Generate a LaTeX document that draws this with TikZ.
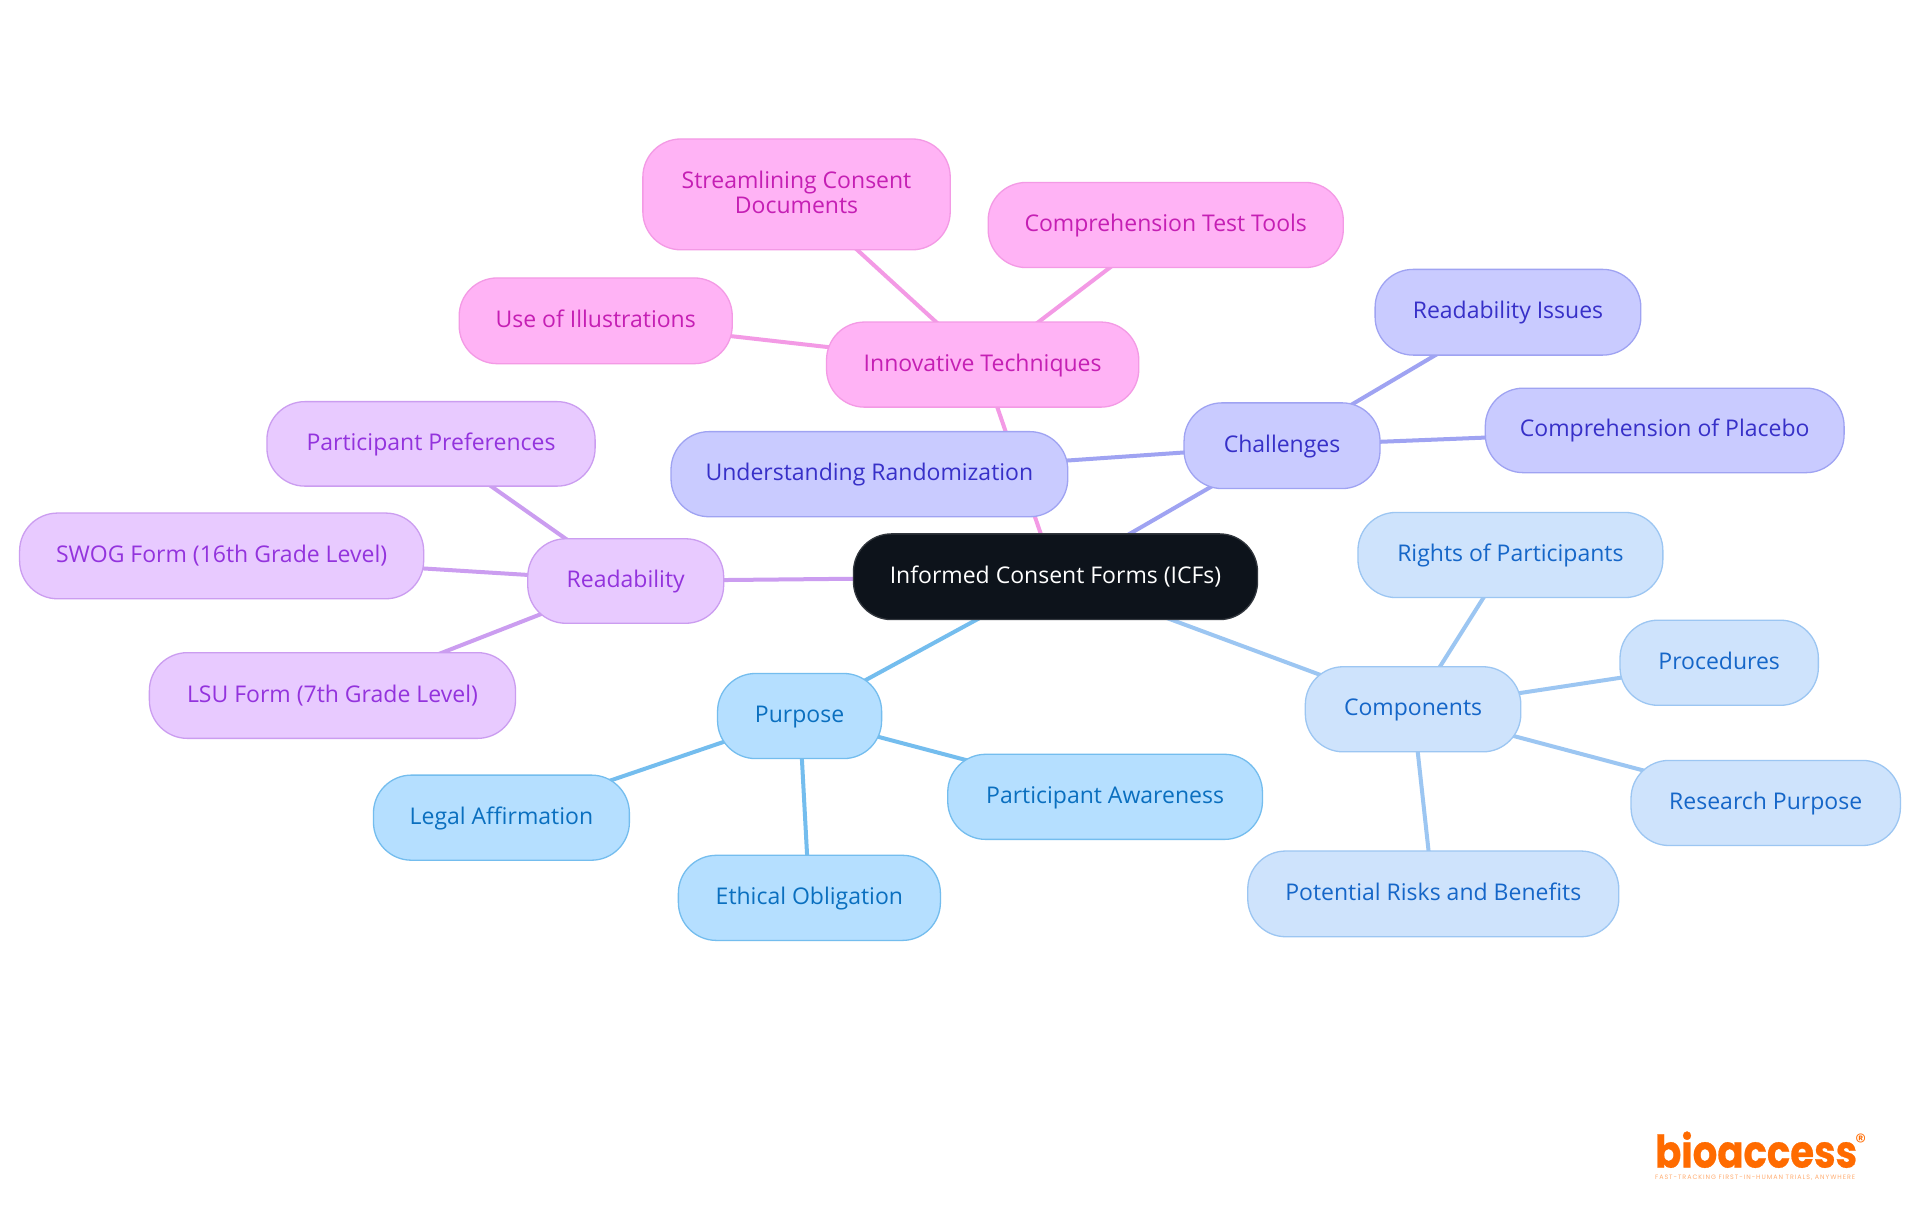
\documentclass[tikz,border=0pt]{standalone}
\usepackage{fontspec}
\setmainfont{Open Sans}
\newfontfamily\logofont[BoldFeatures={FakeBold=0.6}]{Poppins}
\usetikzlibrary{backgrounds}
\definecolor{rootfill}{HTML}{0D131B}
\definecolor{pinkfill}{HTML}{FFB3F5}\definecolor{pinkline}{HTML}{F39AE5}\definecolor{pinktext}{HTML}{C51FB4}
\definecolor{indfill}{HTML}{C9CBFF}\definecolor{indline}{HTML}{9FA3F2}\definecolor{indtext}{HTML}{3730C8}
\definecolor{purfill}{HTML}{E8CAFF}\definecolor{purline}{HTML}{CB9DF0}\definecolor{purtext}{HTML}{9333DD}
\definecolor{blufill}{HTML}{B5DFFF}\definecolor{bluline}{HTML}{74BDEE}\definecolor{blutext}{HTML}{0A6FBF}
\definecolor{skyfill}{HTML}{CEE3FC}\definecolor{skyline}{HTML}{9CC6F2}\definecolor{skytext}{HTML}{1566C8}
\definecolor{logoorange}{HTML}{FF6B00}
\tikzset{
  x=1.2245pt,y=-1.2245pt,
  topic/.style={rounded corners=38pt,line width=1.3pt,inner sep=0pt,align=center,font=\fontsize{23}{25}\selectfont},
  rootnode/.style={topic,fill=rootfill,draw=rootfill!85!white,text=white},
  pinknode/.style={topic,fill=pinkfill,draw=pinkline,text=pinktext},
  indnode/.style={topic,fill=indfill,draw=indline,text=indtext},
  purnode/.style={topic,fill=purfill,draw=purline,text=purtext},
  blunode/.style={topic,fill=blufill,draw=bluline,text=blutext},
  skynode/.style={topic,fill=skyfill,draw=skyline,text=skytext},
  link/.style={line width=4pt},
}
% name, left, right, top, bottom (in reference units), style, text
\newcommand{\topicbox}[7]{%
  \pgfmathsetmacro{\bxw}{(#3-#2)*1.2245}%
  \pgfmathsetmacro{\bxh}{(#5-#4)*1.2245}%
  \pgfmathsetmacro{\bxx}{(#2+#3)/2}%
  \pgfmathsetmacro{\bxy}{(#4+#5)/2}%
  \node[#6,minimum width=\bxw pt,minimum height=\bxh pt] (#1) at (\bxx,\bxy) {\rule{0pt}{19.5pt}#7\rule[-6.5pt]{0pt}{6.5pt}};%
}
\begin{document}
\begin{tikzpicture}
\useasboundingbox (0,0) rectangle (1568,992.25);
\begin{scope}[on background layer]
  \fill[white] (0,0) rectangle (1568,992.25);
\end{scope}
\topicbox{root}{697}{1027}{436}{506}{rootnode}{Informed Consent Forms (ICFs)}
\topicbox{inno}{675}{930}{263}{332.5}{pinknode}{Innovative Techniques}
\topicbox{stream}{525}{776}{113.5}{204}{pinknode}{Streamlining Consent\\Documents}
\topicbox{test}{807}{1097}{149}{218.5}{pinknode}{Comprehension Test Tools}
\topicbox{illus}{375}{598}{227}{297}{pinknode}{Use of Illustrations}
\topicbox{chal}{967}{1127}{329}{399}{indnode}{Challenges}
\topicbox{rand}{548}{872}{352.5}{422}{indnode}{Understanding Randomization}
\topicbox{issues}{1123}{1340}{220}{290}{indnode}{Readability Issues}
\topicbox{placebo}{1213}{1506}{317}{386}{indnode}{Comprehension of Placebo}
\topicbox{read}{431}{591}{440}{509}{purnode}{Readability}
\topicbox{prefs}{218}{486}{328}{397}{purnode}{Participant Preferences}
\topicbox{swog}{16}{346}{419}{489}{purnode}{SWOG Form (16th Grade Level)}
\topicbox{lsu}{122}{421}{533}{603}{purnode}{LSU Form (7th Grade Level)}
\topicbox{purp}{586}{720}{550}{619.5}{blunode}{Purpose}
\topicbox{legal}{305}{514}{633}{702.5}{blunode}{Legal Affirmation}
\topicbox{ethic}{554}{768}{698.5}{768}{blunode}{Ethical Obligation}
\topicbox{aware}{774}{1031}{616}{685.5}{blunode}{Participant Awareness}
\topicbox{comp}{1066}{1242}{544.5}{614}{skynode}{Components}
\topicbox{rights}{1109}{1358}{418.5}{488}{skynode}{Rights of Participants}
\topicbox{proc}{1323}{1485}{506.5}{576}{skynode}{Procedures}
\topicbox{research}{1332}{1552}{621}{690.5}{skynode}{Research Purpose}
\topicbox{risks}{1019}{1322}{695}{765}{skynode}{Potential Risks and Benefits}
\begin{scope}[on background layer]
  \foreach \a/\b in {root/inno,inno/stream,inno/test,inno/illus}
    \draw[link,pinkline] (\a.center) -- (\b.center);
  \foreach \a/\b in {root/chal,chal/rand,chal/issues,chal/placebo}
    \draw[link,indline] (\a.center) -- (\b.center);
  \foreach \a/\b in {root/read,read/prefs,read/swog,read/lsu}
    \draw[link,purline] (\a.center) -- (\b.center);
  \foreach \a/\b in {root/purp,purp/legal,purp/ethic,purp/aware}
    \draw[link,bluline] (\a.center) -- (\b.center);
  \foreach \a/\b in {root/comp,comp/rights,comp/proc,comp/research,comp/risks}
    \draw[link,skyline] (\a.center) -- (\b.center);
\end{scope}
\node[inner sep=0pt,anchor=base west,text=logoorange] (logo) at (1351.5,953.5) {\resizebox{202pt}{36pt}{\logofont\bfseries bioaccess}};
\node[inner sep=0pt,text=logoorange] (reg) at (1519.5,932.5) {\fontsize{22}{22}\selectfont\logofont ®};
\node[inner sep=0pt,anchor=base west,text=logoorange!55!white] (tag) at (1351.5,963.2) {\resizebox{200pt}{!}{\logofont\fontsize{6}{6}\selectfont\addfontfeatures{LetterSpace=15}FAST-TRACKING FIRST-IN-HUMAN TRIALS, ANYWHERE}};
\end{tikzpicture}
\end{document}
